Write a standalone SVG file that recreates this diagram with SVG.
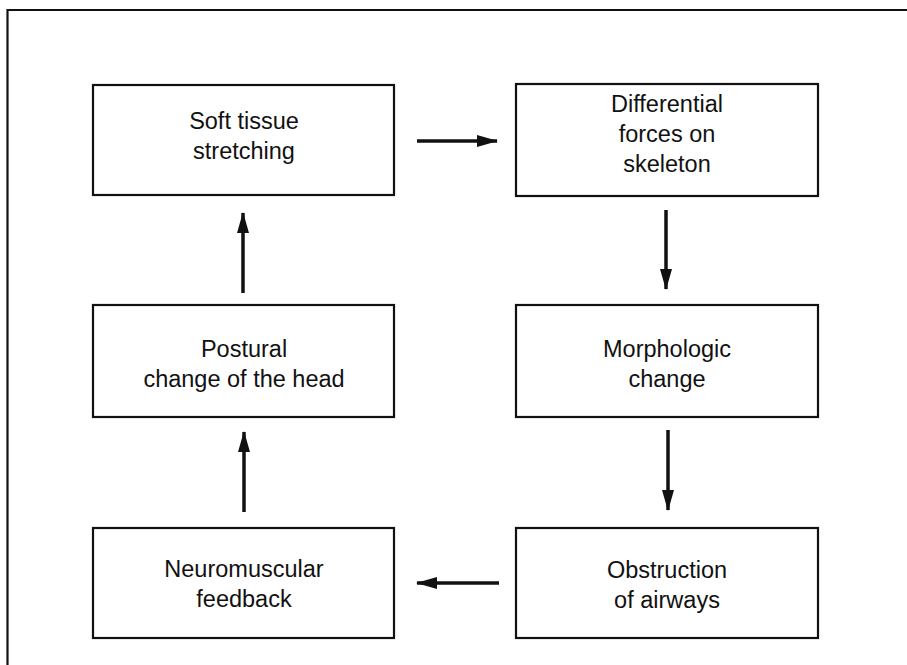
<svg xmlns="http://www.w3.org/2000/svg" width="907" height="665" viewBox="0 0 907 665">
<style>
.box{fill:#fff;stroke:#111;stroke-width:2.2}
.t{font-family:"Liberation Sans",Arial,sans-serif;font-size:23.5px;fill:#111;text-anchor:middle}
.c{stroke:#111;stroke-width:3.5;fill:none}
</style>
<defs>
<marker id="ah" markerUnits="userSpaceOnUse" markerWidth="22" markerHeight="14" refX="20" refY="6" orient="auto">
<path d="M0,0 L21,6 L0,12 z" fill="#111"/>
</marker>
</defs>
<rect x="0" y="0" width="907" height="665" fill="#fff"/>
<path d="M7.5,665 L7.5,10 L907,10" fill="none" stroke="#111" stroke-width="2.2"/>
<g id="soft-tissue">
<rect class="box" x="93" y="85" width="301" height="110"/>
<text class="t" x="244" y="129">Soft tissue</text>
<text class="t" x="244" y="159">stretching</text>
</g>
<g id="differential">
<rect class="box" x="516" y="84" width="302" height="112"/>
<text class="t" x="667" y="112">Differential</text>
<text class="t" x="667" y="142">forces on</text>
<text class="t" x="667" y="172">skeleton</text>
</g>
<g id="morphologic">
<rect class="box" x="516" y="305" width="302" height="112"/>
<text class="t" x="667" y="357">Morphologic</text>
<text class="t" x="667" y="387">change</text>
</g>
<g id="obstruction">
<rect class="box" x="516" y="528" width="302" height="110"/>
<text class="t" x="667" y="578">Obstruction</text>
<text class="t" x="667" y="608">of airways</text>
</g>
<g id="neuromuscular">
<rect class="box" x="93" y="528" width="301" height="110"/>
<text class="t" x="244" y="577">Neuromuscular</text>
<text class="t" x="244" y="607">feedback</text>
</g>
<g id="postural">
<rect class="box" x="93" y="305" width="301" height="112"/>
<text class="t" x="244" y="357">Postural</text>
<text class="t" x="244" y="387">change of the head</text>
</g>
<g id="connectors">
<line class="c" x1="417" y1="141" x2="497" y2="141" marker-end="url(#ah)"/>
<line class="c" x1="666" y1="210" x2="666" y2="289" marker-end="url(#ah)"/>
<line class="c" x1="668" y1="430" x2="668" y2="510" marker-end="url(#ah)"/>
<line class="c" x1="499" y1="583" x2="417" y2="583" marker-end="url(#ah)"/>
<line class="c" x1="244" y1="512" x2="244" y2="432" marker-end="url(#ah)"/>
<line class="c" x1="243" y1="293" x2="243" y2="213" marker-end="url(#ah)"/>
</g>
</svg>
